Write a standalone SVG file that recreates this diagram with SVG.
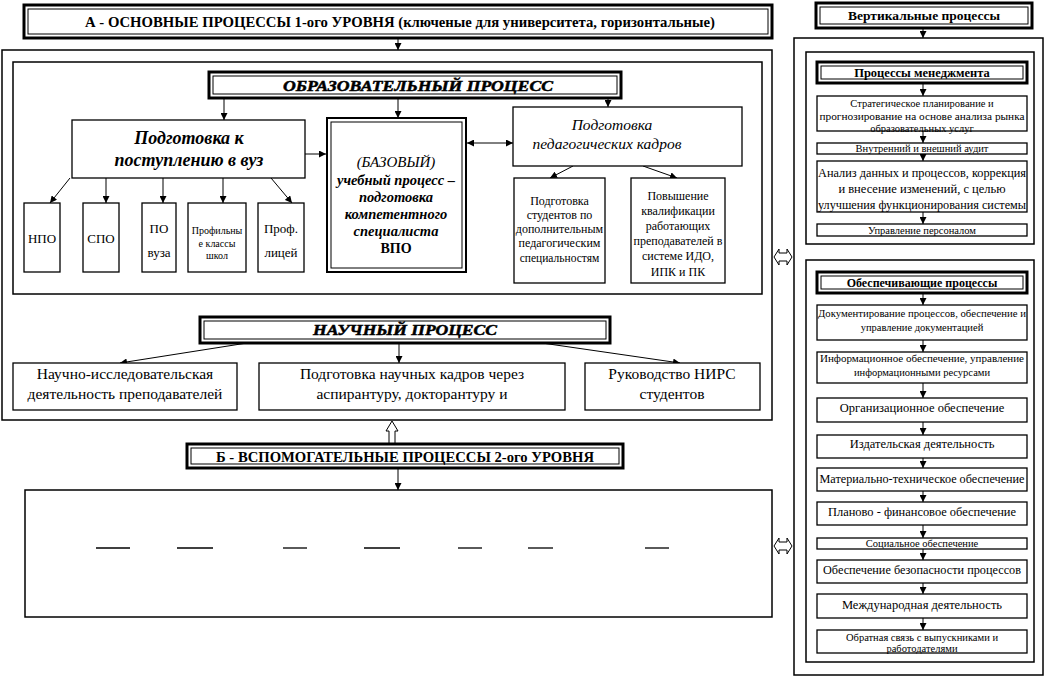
<svg xmlns="http://www.w3.org/2000/svg" width="1047" height="678" viewBox="0 0 1047 678" font-family="'Liberation Serif','DejaVu Serif',serif">
<style>
text{font-family:"Liberation Serif","DejaVu Serif",serif;fill:#000;text-anchor:middle;dominant-baseline:central}
.box{fill:#fff;stroke:#000;stroke-width:1.3}
.frame{fill:none;stroke:#000;stroke-width:1.5}
.outer{fill:#fff;stroke:#000;stroke-width:3}
.inner{fill:none;stroke:#000;stroke-width:1}
.dbl{fill:#fff;stroke:#000;stroke-width:2}
.con{stroke:#000;stroke-width:1;fill:none;marker-end:url(#ah)}
.blk{fill:#fff;stroke:#000;stroke-width:1}
.b{font-weight:bold}
.i{font-style:italic}
.t{font-weight:bold;font-style:italic;stroke:#000;stroke-width:0.5}
</style>
<defs>
<marker id="ah" viewBox="0 0 8 8" markerWidth="7" markerHeight="7" refX="8" refY="4" orient="auto-start-reverse" markerUnits="userSpaceOnUse">
<path d="M0,0 L8,4 L0,8 z" fill="#000"/>
</marker>
<clipPath id="clipSci"><rect x="259" y="363" width="306" height="47"/></clipPath>
</defs>

<g id="frames">
<rect class="frame" x="2" y="50" width="770" height="370"/>
<rect class="frame" x="13" y="62" width="749" height="232"/>
<rect class="frame" x="25" y="490" width="747" height="127"/>
<rect class="frame" x="794" y="38" width="249" height="637"/>
<rect class="frame" x="806" y="52" width="228" height="192"/>
<rect class="frame" x="806" y="260" width="228" height="402"/>
</g>

<g id="connectors">
<line class="con" x1="398" y1="38" x2="398" y2="50"/>
<line class="con" x1="224" y1="98" x2="224" y2="120"/>
<line class="con" x1="398" y1="98" x2="398" y2="118"/>
<line class="con" x1="608" y1="98" x2="608" y2="107"/>
<line class="con" x1="305" y1="154" x2="326" y2="154"/>
<line class="con" x1="467" y1="143" x2="513" y2="143" marker-start="url(#ah)"/>
<line class="con" x1="573" y1="166" x2="550" y2="178"/>
<line class="con" x1="643" y1="166" x2="677" y2="178"/>
<line class="con" x1="70" y1="178" x2="50" y2="203"/>
<line class="con" x1="106" y1="178" x2="106" y2="203"/>
<line class="con" x1="163" y1="178" x2="163" y2="203"/>
<line class="con" x1="223" y1="178" x2="223" y2="203"/>
<line class="con" x1="271" y1="178" x2="292" y2="203"/>
<line class="con" x1="247" y1="343" x2="120" y2="363"/>
<line class="con" x1="399" y1="343" x2="399" y2="363"/>
<line class="con" x1="542" y1="343" x2="680" y2="363"/>
<line class="con" x1="398" y1="468" x2="398" y2="490"/>
<line class="con" x1="923" y1="28" x2="923" y2="38"/>
<line class="con" x1="923" y1="83" x2="923" y2="96"/>
<line class="con" x1="923" y1="131" x2="923" y2="143"/>
<line class="con" x1="923" y1="154" x2="923" y2="161"/>
<line class="con" x1="923" y1="212" x2="923" y2="224"/>
<line class="con" x1="923" y1="293" x2="923" y2="305"/>
<line class="con" x1="923" y1="340" x2="923" y2="352"/>
<line class="con" x1="923" y1="383" x2="923" y2="398"/>
<line class="con" x1="923" y1="422" x2="923" y2="435"/>
<line class="con" x1="923" y1="458" x2="923" y2="468"/>
<line class="con" x1="923" y1="491" x2="923" y2="502"/>
<line class="con" x1="923" y1="525" x2="923" y2="538"/>
<line class="con" x1="923" y1="549" x2="923" y2="560"/>
<line class="con" x1="923" y1="583" x2="923" y2="594"/>
<line class="con" x1="923" y1="618" x2="923" y2="630"/>
<polygon class="blk" points="392,421 386,431 389,431 389,445 395,445 395,431 398,431"/>
<polygon class="blk" points="774,257 779,249 779,253 787,253 787,249 792,257 787,265 787,261 779,261 779,265"/>
<polygon class="blk" points="774,546 779,538 779,542 787,542 787,538 792,546 787,554 787,550 779,550 779,554"/>
</g>

<g id="headerA">
<rect class="outer" x="24" y="5" width="748" height="33"/>
<rect class="inner" x="28" y="9" width="740" height="25"/>
<text class="b" x="400" y="21.5" font-size="15" textLength="630" lengthAdjust="spacingAndGlyphs">А - ОСНОВНЫЕ ПРОЦЕССЫ 1-ого УРОВНЯ (ключеные для университета, горизонтальные)</text>
</g>

<g id="eduTitle">
<rect class="outer" x="209" y="72" width="412" height="26"/>
<rect class="inner" x="213" y="76" width="404" height="18"/>
<text class="t" x="418" y="86" font-size="15" textLength="270" lengthAdjust="spacingAndGlyphs">ОБРАЗОВАТЕЛЬНЫЙ  ПРОЦЕСС</text>
</g>

<g id="prepAdmission">
<rect class="box" x="72" y="120" width="233" height="58"/>
<text class="b i" x="189" y="138" font-size="18">Подготовка к</text>
<text class="b i" x="189" y="160" font-size="18">поступлению в вуз</text>
</g>

<g id="npo"><rect class="box" x="24" y="203" width="36" height="69"/><text x="42" y="238" font-size="13">НПО</text></g>
<g id="spo"><rect class="box" x="83" y="203" width="36" height="69"/><text x="101" y="238" font-size="13">СПО</text></g>
<g id="povuza"><rect class="box" x="142" y="203" width="34" height="69"/><text x="159" y="228" font-size="13">ПО</text><text x="159" y="252" font-size="13">вуза</text></g>
<g id="profClasses"><rect class="box" x="188" y="203" width="58" height="69"/><text x="217" y="230" font-size="10">Профильны</text><text x="217" y="243" font-size="10">е классы</text><text x="217" y="255" font-size="10">школ</text></g>
<g id="profLyceum"><rect class="box" x="258" y="203" width="46" height="69"/><text x="281" y="228" font-size="13">Проф.</text><text x="281" y="252" font-size="13">лицей</text></g>

<g id="baseProcess">
<rect class="dbl" x="327" y="118" width="139" height="154"/>
<rect class="inner" x="331" y="122" width="131" height="146"/>
<text class="i" x="396" y="162" font-size="15">(БАЗОВЫЙ)</text>
<text class="b i" x="396" y="180" font-size="14.5">учебный процесс –</text>
<text class="b i" x="396" y="197" font-size="14.5">подготовка</text>
<text class="b i" x="396" y="214" font-size="14.5">компетентного</text>
<text class="b i" x="396" y="231" font-size="14.5">специалиста</text>
<text class="b" x="396" y="248" font-size="14">ВПО</text>
</g>

<g id="pedStaff">
<rect class="box" x="513" y="107" width="229" height="59"/>
<text class="i" x="612" y="124" font-size="15.5">Подготовка</text>
<text class="i" x="607" y="143" font-size="15.5">педагогических кадров</text>
</g>

<g id="pedStudents">
<rect class="box" x="514" y="178" width="91" height="105"/>
<text x="559.5" y="201" font-size="12">Подготовка</text>
<text x="559.5" y="215" font-size="12">студентов по</text>
<text x="559.5" y="229" font-size="12">дополнительным</text>
<text x="559.5" y="243" font-size="12">педагогическим</text>
<text x="559.5" y="258" font-size="11.5">специальностям</text>
</g>

<g id="qualification">
<rect class="box" x="631" y="178" width="94" height="105"/>
<text x="678" y="196" font-size="12">Повышение</text>
<text x="678" y="211" font-size="12">квалификации</text>
<text x="678" y="226" font-size="12">работающих</text>
<text x="678" y="241" font-size="12">преподавателей в</text>
<text x="678" y="256" font-size="12">системе ИДО,</text>
<text x="678" y="272" font-size="12">ИПК и ПК</text>
</g>

<g id="sciTitle">
<rect class="outer" x="200" y="317" width="410" height="26"/>
<rect class="inner" x="204" y="321" width="402" height="18"/>
<text class="t" x="405" y="330" font-size="15" textLength="184" lengthAdjust="spacingAndGlyphs">НАУЧНЫЙ  ПРОЦЕСС</text>
</g>

<g id="research">
<rect class="box" x="13" y="363" width="224" height="47"/>
<text x="125" y="373" font-size="15.5">Научно-исследовательская</text>
<text x="125" y="393" font-size="15.5">деятельность преподавателей</text>
</g>

<g id="sciStaff">
<rect class="box" x="259" y="363" width="306" height="47"/>
<g clip-path="url(#clipSci)">
<text x="412" y="373" font-size="15.5">Подготовка научных кадров через</text>
<text x="412" y="393" font-size="15.5">аспирантуру, докторантуру и</text>
<text x="412" y="413" font-size="15.5">соискательство</text>
</g>
</g>

<g id="nirs">
<rect class="box" x="585" y="363" width="175" height="47"/>
<text x="672" y="373" font-size="15.5">Руководство НИРС</text>
<text x="672" y="393" font-size="15.5">студентов</text>
</g>

<g id="headerB">
<rect class="outer" x="187" y="444" width="436" height="24"/>
<rect class="inner" x="191" y="448" width="428" height="16"/>
<text class="b" x="405" y="456.5" font-size="15" textLength="378" lengthAdjust="spacingAndGlyphs">Б - ВСПОМОГАТЕЛЬНЫЕ ПРОЦЕССЫ 2-ого УРОВНЯ</text>
</g>

<g id="auxDashes" stroke="#000" stroke-width="1.3">
<line x1="96" y1="548" x2="130" y2="548"/>
<line x1="177" y1="548" x2="213" y2="548"/>
<line x1="283" y1="548" x2="307" y2="548"/>
<line x1="364" y1="548" x2="400" y2="548"/>
<line x1="458" y1="548" x2="482" y2="548"/>
<line x1="528" y1="548" x2="553" y2="548"/>
<line x1="645" y1="548" x2="669" y2="548"/>
</g>

<g id="vertical">
<rect class="outer" x="816" y="3" width="216" height="25"/>
<rect class="inner" x="820" y="7" width="208" height="17"/>
<text class="b" x="924" y="15.5" font-size="13.5">Вертикальные процессы</text>
</g>

<g id="mgmtTitle">
<rect class="outer" x="817" y="62" width="210" height="21"/>
<rect class="inner" x="821" y="66" width="202" height="13"/>
<text class="b" x="922" y="72.5" font-size="12.5">Процессы менеджмента</text>
</g>
<g id="strategic">
<rect class="box" x="817" y="96" width="210" height="35"/>
<text x="922" y="103" font-size="10.5">Стратегическое планирование и</text>
<text x="922" y="116" font-size="10.5" textLength="205" lengthAdjust="spacingAndGlyphs">прогнозирование на основе анализа  рынка</text>
<text x="922" y="128.5" font-size="10.5">образовательных услуг</text>
</g>
<g id="audit">
<rect class="box" x="817" y="143" width="210" height="11"/>
<text x="922" y="148.5" font-size="10.5">Внутренний и внешний аудит</text>
</g>
<g id="analysis">
<rect class="box" x="817" y="161" width="210" height="51"/>
<text x="922" y="173" font-size="12.5" textLength="208" lengthAdjust="spacingAndGlyphs">Анализ данных и процессов, коррекция</text>
<text x="922" y="189" font-size="12.5">и внесение изменений, с целью</text>
<text x="922" y="205" font-size="12.5" textLength="208" lengthAdjust="spacingAndGlyphs">улучшения функционирования системы</text>
</g>
<g id="personnel">
<rect class="box" x="817" y="224" width="210" height="12"/>
<text x="922" y="230" font-size="10.5">Управление персоналом</text>
</g>

<g id="supportTitle">
<rect class="outer" x="817" y="272" width="210" height="21"/>
<rect class="inner" x="821" y="276" width="202" height="13"/>
<text class="b" x="922" y="282.5" font-size="12">Обеспечивающие процессы</text>
</g>
<g id="docs">
<rect class="box" x="817" y="305" width="210" height="35"/>
<text x="922" y="313" font-size="10.5" textLength="208" lengthAdjust="spacingAndGlyphs">Документирование процессов, обеспечение и</text>
<text x="922" y="327" font-size="10.5">управление документацией</text>
</g>
<g id="info">
<rect class="box" x="817" y="352" width="210" height="31"/>
<text x="922" y="358" font-size="10.5" textLength="204" lengthAdjust="spacingAndGlyphs">Информационное  обеспечение, управление</text>
<text x="922" y="372" font-size="10.5">информационными ресурсами</text>
</g>
<g id="org">
<rect class="box" x="817" y="398" width="210" height="24"/>
<text x="922" y="408" font-size="12.5">Организационное обеспечение</text>
</g>
<g id="publishing">
<rect class="box" x="817" y="435" width="210" height="23"/>
<text x="922" y="444" font-size="12.5">Издательская деятельность</text>
</g>
<g id="material">
<rect class="box" x="817" y="468" width="210" height="23"/>
<text x="922" y="478.5" font-size="12.5" textLength="205" lengthAdjust="spacingAndGlyphs">Материально-техническое обеспечение</text>
</g>
<g id="finance">
<rect class="box" x="817" y="502" width="210" height="23"/>
<text x="922" y="512" font-size="12.5" textLength="188" lengthAdjust="spacingAndGlyphs">Планово - финансовое  обеспечение</text>
</g>
<g id="social">
<rect class="box" x="817" y="538" width="210" height="11"/>
<text x="922" y="543.5" font-size="10.5">Социальное обеспечение</text>
</g>
<g id="security">
<rect class="box" x="817" y="560" width="210" height="23"/>
<text x="922" y="569.5" font-size="12.5" textLength="198" lengthAdjust="spacingAndGlyphs">Обеспечение безопасности процессов</text>
</g>
<g id="international">
<rect class="box" x="817" y="594" width="210" height="24"/>
<text x="922" y="605" font-size="12.5">Международная деятельность</text>
</g>
<g id="feedback">
<rect class="box" x="817" y="630" width="210" height="23"/>
<text x="922" y="637" font-size="10.5">Обратная связь с выпускниками и</text>
<text x="922" y="648.5" font-size="10.5">работодателями</text>
</g>
</svg>
